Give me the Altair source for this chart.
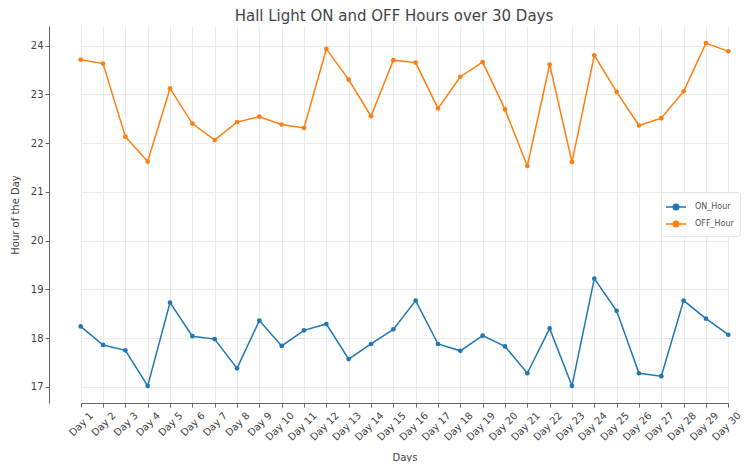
import altair as alt
import pandas as pd

days = [f"Day {i}" for i in range(1, 31)]
on_hour = [18.24, 17.86, 17.75, 17.02, 18.73, 18.04, 17.98, 17.38, 18.36, 17.84,
           18.16, 18.29, 17.57, 17.88, 18.18, 18.77, 17.88, 17.74, 18.05, 17.83,
           17.28, 18.20, 17.02, 19.22, 18.56, 17.28, 17.22, 18.77, 18.40, 18.07]
off_hour = [23.71, 23.63, 22.13, 21.62, 23.12, 22.40, 22.06, 22.43, 22.54, 22.38,
            22.31, 23.93, 23.30, 22.55, 23.70, 23.65, 22.71, 23.36, 23.66, 22.69,
            21.53, 23.61, 21.61, 23.80, 23.05, 22.36, 22.51, 23.06, 24.05, 23.88]
series = ["ON_Hour", "OFF_Hour"]
colors = ["#1f77b4", "#ff7f0e"]

rows = []
for d, a, b in zip(days, on_hour, off_hour):
    rows.append({"Day": d, "Series": "ON_Hour", "Hour": a})
    rows.append({"Day": d, "Series": "OFF_Hour", "Hour": b})
df = pd.DataFrame(rows)

FONT = "DejaVu Sans"

x = alt.X("Day:N", sort=days,
          scale=alt.Scale(type="point", range=[31.7, 679.3], padding=0),
          axis=alt.Axis(title="Days", labelAngle=-45, labelAlign="right", labelBaseline="top",
                        labelFontSize=10, labelColor="#444", titleFontSize=10, titleColor="#444",
                        titleFontWeight="normal", titlePadding=10, tickColor="#666", tickSize=4,
                        domainColor="#666", gridColor="#ebebeb", grid=True, labelPadding=3,
                        labelOffset=7))
y = alt.Y("Hour:Q", scale=alt.Scale(domain=[16.67, 24.4], nice=False, zero=False),
          axis=alt.Axis(title="Hour of the Day", values=[17, 18, 19, 20, 21, 22, 23, 24],
                        labelFontSize=10, labelColor="#444", titleFontSize=10, titleColor="#444",
                        titleFontWeight="normal", titlePadding=10, tickColor="#666", tickSize=4,
                        domainColor="#666", gridColor="#ebebeb", grid=True))
color = alt.Color("Series:N", sort=series,
                  scale=alt.Scale(domain=series, range=colors),
                  legend=alt.Legend(title=None, orient="none", legendX=612, legendY=166,
                                    labelFontSize=8, labelColor="#555", labelOffset=10,
                                    symbolType="M-1.25,0L1.25,0M-0.35,0A0.35,0.35,0,1,1,0.35,0A0.35,0.35,0,1,1,-0.35,0",
                                    symbolSize=256, symbolStrokeWidth=1.5,
                                    rowPadding=2, padding=6, strokeColor="#e4e4e4",
                                    fillColor="white", cornerRadius=3))

line = alt.Chart(df).mark_line(strokeWidth=1.5, point=alt.OverlayMarkDef(filled=True, size=22)).encode(
    x=x, y=y, color=color, detail="Series:N")

chart = line.properties(
    width=694, height=377,
    title=alt.TitleParams("Hall Light ON and OFF Hours over 30 Days", fontSize=15, color="#444",
                          font=FONT, fontWeight="normal", offset=2, anchor="middle", dx=-2),
    autosize=alt.AutoSizeParams(type="none"),
    padding={"left": 41, "top": 18, "right": 0, "bottom": 59},
).configure(font=FONT).configure_view(stroke=None)

chart.save("out.html", embed_options={"renderer": "svg", "actions": False})
